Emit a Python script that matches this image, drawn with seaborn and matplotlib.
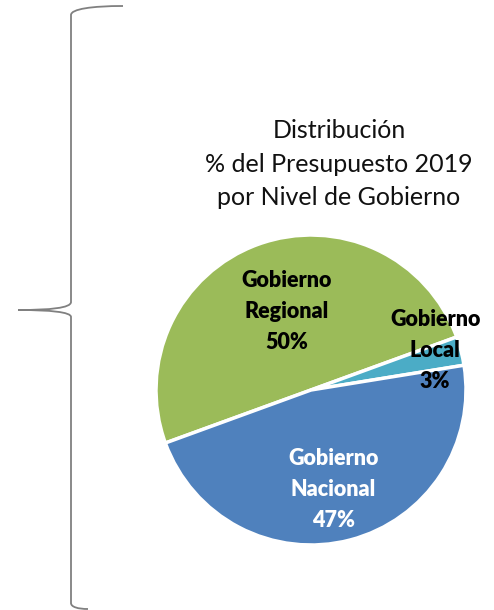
import matplotlib
matplotlib.use("Agg")
import matplotlib.pyplot as plt
from matplotlib.path import Path
from matplotlib.patches import PathPatch
import numpy as np
import seaborn as sns

# datos del grafico
niveles = ["Gobierno\nRegional", "Gobierno\nLocal", "Gobierno\nNacional"]
porcentajes = [50, 3, 47]
colores = ["#9BBB59", "#4BACC6", "#4F81BD"]
color_texto = ["black", "black", "white"]
titulo = "Distribución\n% del Presupuesto 2019\npor Nivel de Gobierno"

sns.set_theme(style="white")
plt.rcParams["font.family"] = ["Lato", "DejaVu Sans"]

W, H = 494, 610
fig = plt.figure(figsize=(W / 100, H / 100), dpi=100)

# capa en pixeles para la llave y el titulo
bg = fig.add_axes([0, 0, 1, 1])
bg.set_xlim(0, W)
bg.set_ylim(H, 0)
bg.axis("off")

verts = [
    (123, 6), (92, 6), (71, 9), (71, 15),
    (71, 302),
    (71, 308), (50, 310), (18, 310),
    (50, 310), (71, 312), (71, 317),
    (71, 603),
    (71, 607), (78, 609), (88, 609),
]
codes = [Path.MOVETO, Path.CURVE4, Path.CURVE4, Path.CURVE4,
         Path.LINETO,
         Path.CURVE4, Path.CURVE4, Path.CURVE4,
         Path.CURVE4, Path.CURVE4, Path.CURVE4,
         Path.LINETO,
         Path.CURVE4, Path.CURVE4, Path.CURVE4]
bg.add_patch(PathPatch(Path(verts, codes), facecolor="none",
                       edgecolor="#808080", lw=1.3))

bg.text(339, 164, titulo, ha="center", va="center", fontsize=18,
        linespacing=1.56, color="#111111")

# pastel
cx, cy, r = 311, 390, 155
ax = fig.add_axes([(cx - r) / W, (H - cy - r) / H, 2 * r / W, 2 * r / H])
wedges, _ = ax.pie(porcentajes, colors=colores, startangle=200,
                   counterclock=False,
                   wedgeprops=dict(edgecolor="white", linewidth=2.5))
ax.set_xlim(-1, 1)
ax.set_ylim(-1, 1)

dist = [0.53, 0.84, 0.66]
desfase = [-3, 3, -2]
for w, nom, p, c, d, off in zip(wedges, niveles, porcentajes, color_texto, dist, desfase):
    ang = np.deg2rad((w.theta1 + w.theta2) / 2 + off)
    ax.text(d * np.cos(ang), d * np.sin(ang), f"{nom}\n{p}%", ha="center",
            va="center", fontsize=15.5, fontweight="heavy", color=c,
            linespacing=1.58)

fig.savefig("out.png", dpi=100)
